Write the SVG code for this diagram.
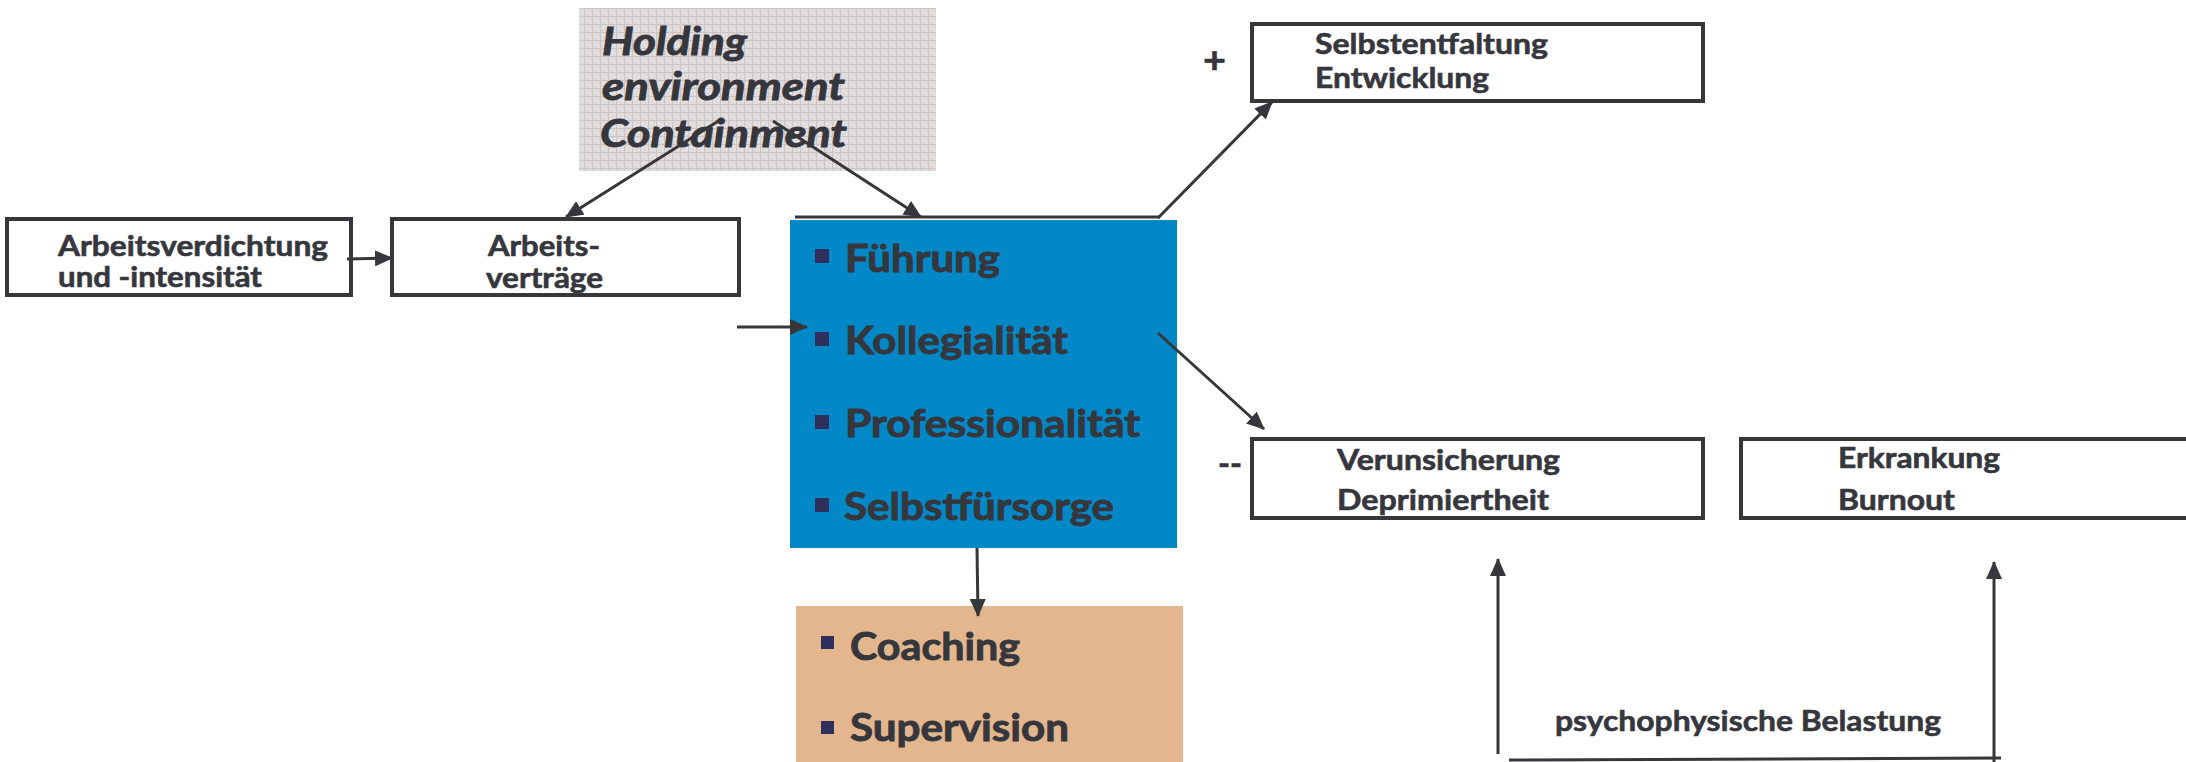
<svg xmlns="http://www.w3.org/2000/svg" width="2186" height="762" viewBox="0 0 2186 762">
  <defs>
    <pattern id="grid" width="8" height="8" patternUnits="userSpaceOnUse">
      <rect width="8" height="8" fill="#e0dcdc"/>
      <path d="M0 0.5H8M0.5 0V8" stroke="#cbc5c5" stroke-width="1"/>
      <rect x="3" y="3" width="1" height="1" fill="#f4f2f2"/>
      <rect x="6" y="5" width="1" height="1" fill="#f4f2f2"/>
    </pattern>
    <marker id="arrow" viewBox="0 0 18 16" refX="17" refY="8" markerWidth="18" markerHeight="16" markerUnits="userSpaceOnUse" orient="auto">
      <path d="M0 0L18 8L0 16Z" fill="#36363b"/>
    </marker>
    <style>
      .box { fill: #ffffff; stroke: #36363b; stroke-width: 4; }
      .t { font-family: Lato, "Open Sans", "Liberation Sans", sans-serif; font-weight: bold; fill: #36363d; stroke: #36363d; stroke-width: 0.6; }
      .s { font-size: 28px; }
      .m { font-size: 38px; stroke-width: 0.9; }
      .h { font-size: 39px; font-style: italic; stroke-width: 0.9; }
      .bullet { fill: #2f2f5c; }
      .conn { stroke: #36363b; stroke-width: 3; fill: none; }
    </style>
  </defs>

  <rect width="2186" height="762" fill="#ffffff"/>

  <!-- holding environment -->
  <g id="holding">
    <rect x="579" y="8" width="357" height="163" fill="url(#grid)"/>
    <text class="t h" x="602" y="55" textLength="145" lengthAdjust="spacingAndGlyphs">Holding</text>
    <text class="t h" x="602" y="100" textLength="243" lengthAdjust="spacingAndGlyphs">environment</text>
    <text class="t h" x="600" y="147" textLength="247" lengthAdjust="spacingAndGlyphs">Containment</text>
  </g>

  <!-- left input boxes -->
  <g id="arbeitsverdichtung">
    <rect class="box" x="7" y="219" width="344" height="76"/>
    <text class="t s" x="58" y="256" textLength="270" lengthAdjust="spacingAndGlyphs">Arbeitsverdichtung</text>
    <text class="t s" x="58" y="287" textLength="204" lengthAdjust="spacingAndGlyphs">und -intensität</text>
  </g>
  <g id="arbeitsvertraege">
    <rect class="box" x="392" y="219" width="347" height="76"/>
    <text class="t s" x="488" y="256" textLength="112" lengthAdjust="spacingAndGlyphs">Arbeits-</text>
    <text class="t s" x="486" y="288" textLength="117" lengthAdjust="spacingAndGlyphs">verträge</text>
  </g>

  <!-- central resources -->
  <g id="ressourcen">
    <line x1="795" y1="217" x2="1160" y2="217" stroke="#36363b" stroke-width="3"/>
    <rect x="790" y="220" width="387" height="328" fill="#0288c6"/>
    <rect class="bullet" x="815" y="249" width="14" height="14"/>
    <text class="t m" x="845" y="272" textLength="155" lengthAdjust="spacingAndGlyphs">Führung</text>
    <rect class="bullet" x="815" y="332" width="14" height="14"/>
    <text class="t m" x="845" y="354" textLength="223" lengthAdjust="spacingAndGlyphs">Kollegialität</text>
    <rect class="bullet" x="815" y="415" width="14" height="14"/>
    <text class="t m" x="845" y="437" textLength="295" lengthAdjust="spacingAndGlyphs">Professionalität</text>
    <rect class="bullet" x="815" y="498" width="14" height="14"/>
    <text class="t m" x="844" y="520" textLength="270" lengthAdjust="spacingAndGlyphs">Selbstfürsorge</text>
  </g>

  <g id="beratung">
    <rect x="796" y="606" width="387" height="160" fill="#e3b68e"/>
    <rect class="bullet" x="821" y="636" width="13" height="13"/>
    <text class="t m" font-size="40" x="850" y="660" textLength="170" lengthAdjust="spacingAndGlyphs">Coaching</text>
    <rect class="bullet" x="821" y="721" width="13" height="13"/>
    <text class="t m" font-size="40" x="850" y="741" textLength="219" lengthAdjust="spacingAndGlyphs">Supervision</text>
  </g>

  <!-- outcomes -->
  <g id="selbstentfaltung">
    <text class="t" font-size="36" stroke-width="1.2" x="1203" y="73" textLength="23" lengthAdjust="spacingAndGlyphs">+</text>
    <rect class="box" x="1252" y="24" width="451" height="77"/>
    <text class="t" font-size="29" x="1315" y="54" textLength="233" lengthAdjust="spacingAndGlyphs">Selbstentfaltung</text>
    <text class="t" font-size="29" x="1315" y="88" textLength="174" lengthAdjust="spacingAndGlyphs">Entwicklung</text>
  </g>
  <g id="verunsicherung">
    <text class="t" font-size="34" stroke-width="1.6" x="1218" y="476" textLength="24" lengthAdjust="spacingAndGlyphs">--</text>
    <rect class="box" x="1252" y="439" width="451" height="79"/>
    <text class="t" font-size="29" x="1337" y="470" textLength="223" lengthAdjust="spacingAndGlyphs">Verunsicherung</text>
    <text class="t" font-size="29" x="1337" y="510" textLength="212" lengthAdjust="spacingAndGlyphs">Deprimiertheit</text>
  </g>
  <g id="erkrankung">
    <rect class="box" x="1741" y="439" width="460" height="79"/>
    <text class="t" font-size="29" x="1838" y="468" textLength="162" lengthAdjust="spacingAndGlyphs">Erkrankung</text>
    <text class="t" font-size="29" x="1838" y="510" textLength="117" lengthAdjust="spacingAndGlyphs">Burnout</text>
  </g>
  <g id="belastung">
    <text class="t" font-size="29" x="1555" y="731" textLength="386" lengthAdjust="spacingAndGlyphs">psychophysische Belastung</text>
  </g>

  <!-- connectors -->
  <g id="connectors">
    <line class="conn" x1="347" y1="259" x2="392" y2="258" marker-end="url(#arrow)"/>
    <line class="conn" x1="720" y1="120" x2="566" y2="217" marker-end="url(#arrow)"/>
    <line class="conn" x1="773" y1="121" x2="921" y2="217" marker-end="url(#arrow)"/>
    <line class="conn" x1="737" y1="327" x2="807" y2="327" marker-end="url(#arrow)"/>
    <line class="conn" x1="977" y1="548" x2="978" y2="616" marker-end="url(#arrow)"/>
    <line class="conn" x1="1158" y1="218" x2="1272" y2="102" marker-end="url(#arrow)"/>
    <line class="conn" x1="1158" y1="333" x2="1264" y2="429" marker-end="url(#arrow)"/>
    <line class="conn" x1="1498" y1="754" x2="1498" y2="559" marker-end="url(#arrow)"/>
    <line class="conn" x1="1994" y1="766" x2="1994" y2="562" marker-end="url(#arrow)"/>
    <line class="conn" x1="1509" y1="760" x2="2001" y2="758"/>
  </g>
</svg>
